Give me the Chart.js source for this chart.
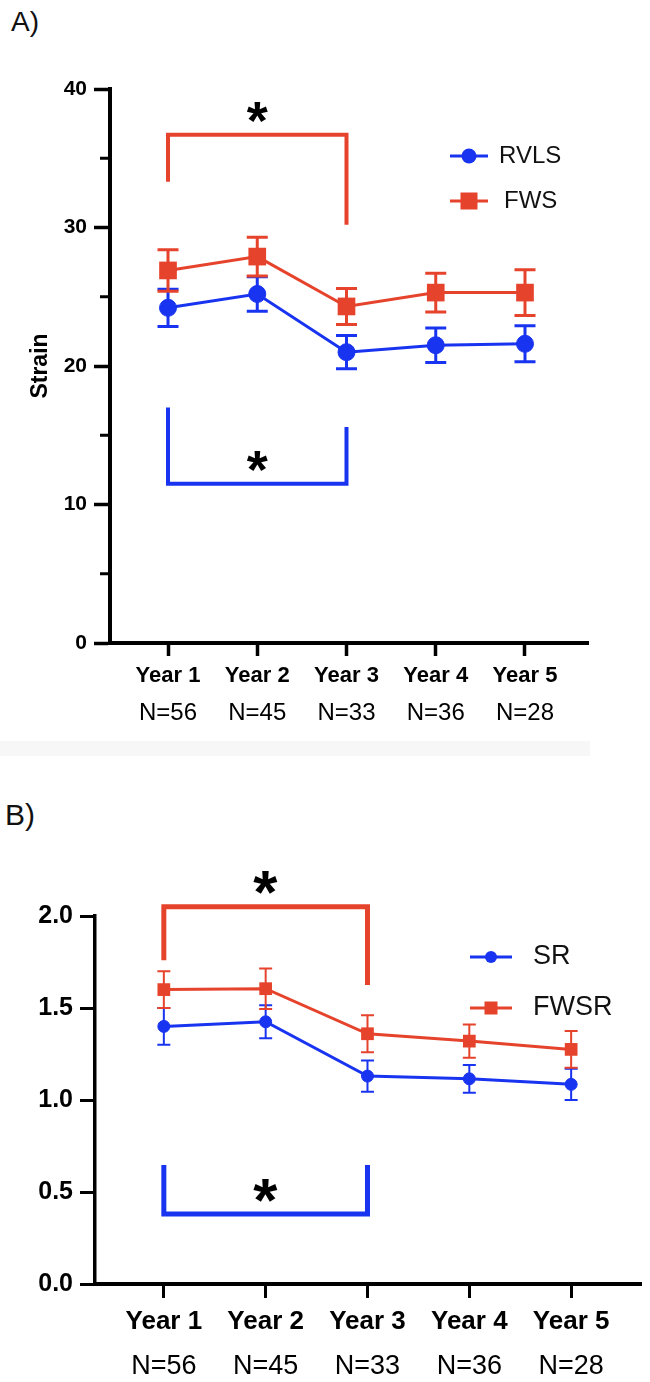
<!DOCTYPE html>
<html lang="en">
<head>
<meta charset="utf-8">
<title>Strain and strain rate by follow-up year</title>
<script src="https://cdn.jsdelivr.net/npm/chart.js@4.4.1/dist/chart.umd.min.js"></script>
<style>
  html, body { margin: 0; padding: 0; background: #fff; }
  body { position: relative; width: 650px; height: 1382px; overflow: hidden;
         font-family: "Liberation Sans", Arial, Helvetica, sans-serif; color: #111; }
  .tag { position: absolute; line-height: 1; }
  #tagA { left: 11px; top: 8px; font-size: 28px; }
  #tagB { left: 5px; top: 800px; font-size: 30px; }
  #shadeA { position: absolute; left: 0; top: 741px; width: 590px; height: 15px; background: #f7f7f7; }
  .wrap { position: absolute; left: 0; width: 650px; }
  #wrapA { top: 0; height: 760px; }
  #wrapB { top: 760px; height: 622px; }
</style>
</head>
<body>
<div id="shadeA"></div>
<div class="tag" id="tagA">A)</div>
<div class="tag" id="tagB">B)</div>
<div class="wrap" id="wrapA"><canvas id="chartA"></canvas></div>
<div class="wrap" id="wrapB"><canvas id="chartB"></canvas></div>
<script>
/* Strain / strain rate by follow-up year */

const years  = ["Year 1", "Year 2", "Year 3", "Year 4", "Year 5"];
const counts = ["N=56", "N=45", "N=33", "N=36", "N=28"];

// ---------- Panel A: strain --------------------------------------------
const rvls     = [24.2, 25.2, 21.0, 21.5, 21.6];
const rvlsErr  = [1.35, 1.25, 1.2, 1.25, 1.3];
const fws      = [26.9, 27.9, 24.3, 25.3, 25.3];
const fwsErr   = [1.5, 1.4, 1.3, 1.4, 1.65];
const yTicksA  = [0, 10, 20, 30, 40];
const yMinorA  = [5, 15, 25, 35];
// significance: [from year, to year, bar, left end, right end, star]
const fwsSigA  = [1, 3, 36.7, 33.3, 30.2, 38.3];
const rvlsSigA = [1, 3, 11.5, 17.0, 15.6, 13.1];

// ---------- Panel B: strain rate ---------------------------------------
const sr       = [1.40, 1.425, 1.13, 1.115, 1.085];
const srErr    = [0.10, 0.09, 0.085, 0.075, 0.085];
const fwsr     = [1.60, 1.605, 1.36, 1.32, 1.275];
const fwsrErr  = [0.10, 0.11, 0.10, 0.09, 0.10];
const yTicksB  = [0, 0.5, 1.0, 1.5, 2.0];
const fwsrSigB = [1, 3, 2.05, 1.76, 1.625, 2.18];
const srSigB   = [1, 3, 0.38, 0.647, 0.647, 0.51];

const BLUE = "#1834f0";
const RED  = "#e6432c";
const FONT = "'Liberation Sans', Arial, Helvetica, sans-serif";

Chart.defaults.font.family = FONT;
Chart.defaults.color = "#000";

const toPoints = arr => arr.map((v, i) => ({ x: i + 1, y: v }));
const yearTicks = s => { s.ticks = years.map((_, i) => ({ value: i + 1 })); };

// error bars, significance brackets, minor ticks and legend
const extras = {
  id: "extras",
  beforeDatasetsDraw(chart, args, o) {
    const { ctx, scales: { y } } = chart;
    chart.data.datasets.forEach((ds, i) => {
      const err = o.errors[i];
      ctx.save();
      ctx.strokeStyle = ds.borderColor;
      ctx.lineWidth = o.errWidth;
      chart.getDatasetMeta(i).data.forEach((pt, j) => {
        const v = ds.data[j].y;
        const top = y.getPixelForValue(v + err[j]);
        const bot = y.getPixelForValue(v - err[j]);
        ctx.beginPath();
        ctx.moveTo(pt.x, top); ctx.lineTo(pt.x, bot);
        ctx.moveTo(pt.x - o.cap, top); ctx.lineTo(pt.x + o.cap, top);
        ctx.moveTo(pt.x - o.cap, bot); ctx.lineTo(pt.x + o.cap, bot);
        ctx.stroke();
      });
      ctx.restore();
    });
  },
  afterDraw(chart, args, o) {
    const { ctx, scales: { x, y } } = chart;
    ctx.save();

    if (o.minor) {
      ctx.strokeStyle = "#000";
      ctx.lineWidth = o.minorWidth;
      o.minor.forEach(v => {
        const py = y.getPixelForValue(v);
        ctx.beginPath();
        ctx.moveTo(y.right - o.minorLen, py);
        ctx.lineTo(y.right, py);
        ctx.stroke();
      });
    }

    o.brackets.forEach(b => {
      const [from, to, bar, l, r, star] = b.values;
      const x1 = x.getPixelForValue(from), x2 = x.getPixelForValue(to);
      ctx.strokeStyle = b.color;
      ctx.lineWidth = o.bracketWidth;
      ctx.lineJoin = "miter";
      ctx.lineCap = "butt";
      ctx.beginPath();
      ctx.moveTo(x1, y.getPixelForValue(l));
      ctx.lineTo(x1, y.getPixelForValue(bar));
      ctx.lineTo(x2, y.getPixelForValue(bar));
      ctx.lineTo(x2, y.getPixelForValue(r));
      ctx.stroke();

      ctx.fillStyle = "#000";
      ctx.font = `bold ${o.starSize}px ${FONT}`;
      ctx.textAlign = "left";
      ctx.textBaseline = "alphabetic";
      const m = ctx.measureText("*");
      const sx = x.getPixelForValue((from + to) / 2);
      const sy = y.getPixelForValue(star);
      const x0 = sx - (m.actualBoundingBoxRight - m.actualBoundingBoxLeft) / 2;
      const y0 = sy + (m.actualBoundingBoxAscent - m.actualBoundingBoxDescent) / 2;
      ctx.fillText("*", x0, y0);
    });

    o.legend.forEach((item, i) => {
      const ds = chart.data.datasets[i];
      const cx = (item.x0 + item.x1) / 2;
      ctx.strokeStyle = ds.borderColor;
      ctx.lineWidth = o.legendLine;
      ctx.beginPath();
      ctx.moveTo(item.x0, item.y);
      ctx.lineTo(item.x1, item.y);
      ctx.stroke();
      ctx.fillStyle = ds.backgroundColor;
      if (ds.pointStyle === "rect") {
        ctx.fillRect(cx - o.legendSquare / 2, item.y - o.legendSquare / 2, o.legendSquare, o.legendSquare);
      } else {
        ctx.beginPath();
        ctx.arc(cx, item.y, o.legendDot, 0, Math.PI * 2);
        ctx.fill();
      }
      ctx.fillStyle = "#111";
      ctx.font = `${o.legendFont}px ${FONT}`;
      ctx.textAlign = "left";
      ctx.textBaseline = "middle";
      ctx.fillText(ds.label, item.tx, item.y);
    });

    ctx.restore();
  },
};

function buildChart(id, p) {
  return new Chart(document.getElementById(id), {
    type: "line",
    data: {
      datasets: [
        {
          label: p.names[0], data: toPoints(p.series[0]),
          borderColor: BLUE, backgroundColor: BLUE, borderWidth: p.lineW,
          pointStyle: "circle", pointRadius: p.dotR, pointBorderWidth: 1,
          pointBorderColor: BLUE, pointBackgroundColor: BLUE, tension: 0,
        },
        {
          label: p.names[1], data: toPoints(p.series[1]),
          borderColor: RED, backgroundColor: RED, borderWidth: p.lineW,
          pointStyle: "rect", pointRadius: p.rectR, pointBorderWidth: 0,
          pointBackgroundColor: RED, tension: 0,
        },
      ],
    },
    options: {
      responsive: true,
      maintainAspectRatio: false,
      animation: false,
      events: [],
      layout: { padding: p.pad },
      plugins: {
        legend: { display: false },
        tooltip: { enabled: false },
        extras: p.extras,
      },
      scales: {
        x: {
          type: "linear", position: "bottom", weight: 0,
          min: p.xMin, max: p.xMax,
          afterBuildTicks: yearTicks,
          afterFit: s => { s.height = p.xH; },
          grid: { drawOnChartArea: false, drawTicks: true, tickLength: p.xTick, tickWidth: p.tickW, tickColor: "#000" },
          border: { display: true, color: "#000", width: p.xBorder },
          ticks: {
            autoSkip: false, maxRotation: 0, color: "#000", padding: p.xPad,
            font: { size: p.yearFont, weight: "bold" },
            callback: v => years[v - 1],
          },
        },
        x2: {
          type: "linear", position: "bottom", weight: 1,
          min: p.xMin, max: p.xMax,
          afterBuildTicks: yearTicks,
          afterFit: s => { s.height = p.x2H; },
          grid: { display: false, drawTicks: false },
          border: { display: false },
          ticks: {
            autoSkip: false, maxRotation: 0, color: "#000", padding: p.x2Pad,
            font: { size: p.countFont, weight: "normal" },
            callback: v => counts[v - 1],
          },
        },
        y: {
          type: "linear", position: "left",
          min: p.yTicks[0], max: p.yTicks[p.yTicks.length - 1],
          afterBuildTicks: s => { s.ticks = p.yTicks.map(v => ({ value: v })); },
          afterFit: s => { s.width = p.yW; },
          grid: { drawOnChartArea: false, drawTicks: true, tickLength: p.yTick, tickWidth: p.tickW, tickColor: "#000" },
          border: { display: true, color: "#000", width: p.yBorder },
          ticks: {
            color: "#000", padding: p.yPad,
            font: { size: p.yFont, weight: "bold" },
            callback: p.yFmt,
          },
          title: p.yTitle
            ? { display: true, text: p.yTitle, color: "#000", font: { size: 23, weight: "bold" }, padding: { top: 27, bottom: 0 } }
            : { display: false },
        },
      },
    },
    plugins: [extras],
  });
}

// ---------- Panel A ----------------------------------------------------
buildChart("chartA", {
  names: ["RVLS", "FWS"],
  series: [rvls, fws],
  lineW: 3, dotR: 8.5, rectR: 12.5,
  pad: { top: 89, right: 62, bottom: 19, left: 0 },
  xMin: 0.35, xMax: 5.706,
  xH: 54, x2H: 44, xTick: 13, xPad: 7, x2Pad: 2, xBorder: 4, tickW: 3.5,
  yearFont: 22, countFont: 24,
  yTicks: yTicksA, yW: 110, yTick: 16, yPad: 7, yBorder: 4, yFont: 21,
  yFmt: v => String(v),
  yTitle: "Strain",
  extras: {
    errors: [rvlsErr, fwsErr], errWidth: 3, cap: 10.5,
    minor: yMinorA, minorLen: 10, minorWidth: 3,
    brackets: [
      { values: fwsSigA, color: RED },
      { values: rvlsSigA, color: BLUE },
    ],
    bracketWidth: 4, starSize: 54,
    legend: [
      { x0: 450, x1: 488, y: 156, tx: 499 },
      { x0: 450, x1: 488, y: 201, tx: 504 },
    ],
    legendLine: 3, legendDot: 7.5, legendSquare: 17, legendFont: 24,
  },
});

// ---------- Panel B ----------------------------------------------------
buildChart("chartB", {
  names: ["SR", "FWSR"],
  series: [sr, fwsr],
  lineW: 3, dotR: 6, rectR: 9,
  pad: { top: 156, right: 0, bottom: 0, left: 0 },
  xMin: 0.324, xMax: 5.686,
  xH: 60, x2H: 38, xTick: 14, xPad: 8, x2Pad: 6, xBorder: 4, tickW: 3,
  yearFont: 26, countFont: 27,
  yTicks: yTicksB, yW: 95, yTick: 15, yPad: 7, yBorder: 3.5, yFont: 25,
  yFmt: v => v.toFixed(1),
  yTitle: null,
  extras: {
    errors: [srErr, fwsrErr], errWidth: 2, cap: 6.5,
    minor: null,
    brackets: [
      { values: fwsrSigB, color: RED },
      { values: srSigB, color: BLUE },
    ],
    bracketWidth: 5, starSize: 62,
    legend: [
      { x0: 470, x1: 512, y: 197, tx: 533 },
      { x0: 470, x1: 512, y: 248, tx: 533 },
    ],
    legendLine: 3, legendDot: 6, legendSquare: 13, legendFont: 27,
  },
});
</script>
</body>
</html>
